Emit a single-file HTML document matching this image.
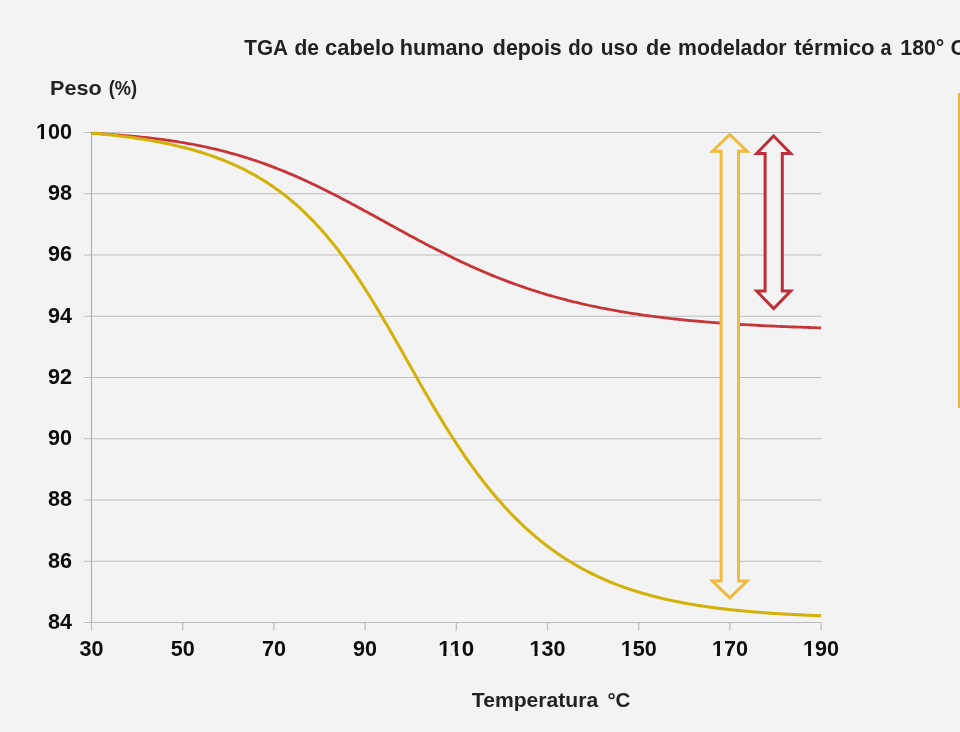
<!DOCTYPE html>
<html><head><meta charset="utf-8"><style>
html,body{margin:0;padding:0;background:#f3f3f3;}
body{width:960px;height:732px;overflow:hidden;position:relative;}
svg{position:absolute;left:0;top:0;}
.g{stroke:#bdbdbf;stroke-width:1.2;}
text{font-family:"Liberation Sans",Arial,sans-serif;font-weight:bold;}
.n{font-size:22.5px;fill:#0d0d0d;}
.t{font-size:21.5px;fill:#222;}
.l{font-size:21px;fill:#222;}
</style></head><body>
<svg width="960" height="732" viewBox="0 0 960 732">
<line x1="84" y1="622.50" x2="821.5" y2="622.50" class="g"/>
<line x1="84" y1="561.25" x2="821.5" y2="561.25" class="g"/>
<line x1="84" y1="500.00" x2="821.5" y2="500.00" class="g"/>
<line x1="84" y1="438.75" x2="821.5" y2="438.75" class="g"/>
<line x1="84" y1="377.50" x2="821.5" y2="377.50" class="g"/>
<line x1="84" y1="316.25" x2="821.5" y2="316.25" class="g"/>
<line x1="84" y1="255.00" x2="821.5" y2="255.00" class="g"/>
<line x1="84" y1="193.75" x2="821.5" y2="193.75" class="g"/>
<line x1="84" y1="132.50" x2="821.5" y2="132.50" class="g"/>
<line x1="91.5" y1="132.5" x2="91.5" y2="622.5" class="g" style="stroke:#b0b0b0"/>
<line x1="91.5" y1="622.5" x2="91.5" y2="630.5" class="g"/>
<line x1="182.7" y1="622.5" x2="182.7" y2="630.5" class="g"/>
<line x1="273.9" y1="622.5" x2="273.9" y2="630.5" class="g"/>
<line x1="365.1" y1="622.5" x2="365.1" y2="630.5" class="g"/>
<line x1="456.3" y1="622.5" x2="456.3" y2="630.5" class="g"/>
<line x1="547.5" y1="622.5" x2="547.5" y2="630.5" class="g"/>
<line x1="638.7" y1="622.5" x2="638.7" y2="630.5" class="g"/>
<line x1="729.9" y1="622.5" x2="729.9" y2="630.5" class="g"/>
<line x1="821.1" y1="622.5" x2="821.1" y2="630.5" class="g"/>

<path d="M91.5,133.3 L93.5,133.4 L95.5,133.5 L97.5,133.6 L99.5,133.7 L101.5,133.9 L103.5,134.0 L105.5,134.1 L107.5,134.2 L109.5,134.4 L111.5,134.5 L113.5,134.7 L115.5,134.8 L117.5,134.9 L119.5,135.1 L121.5,135.3 L123.5,135.4 L125.5,135.6 L127.5,135.8 L129.5,135.9 L131.5,136.1 L133.5,136.3 L135.5,136.5 L137.5,136.7 L139.5,136.9 L141.5,137.1 L143.5,137.3 L145.5,137.5 L147.5,137.7 L149.5,137.9 L151.5,138.2 L153.5,138.4 L155.5,138.7 L157.5,138.9 L159.5,139.2 L161.5,139.4 L163.5,139.7 L165.5,140.0 L167.5,140.2 L169.5,140.5 L171.5,140.8 L173.5,141.1 L175.5,141.4 L177.5,141.7 L179.5,142.1 L181.5,142.4 L183.5,142.7 L185.5,143.1 L187.5,143.4 L189.5,143.8 L191.5,144.1 L193.5,144.5 L195.5,144.9 L197.5,145.3 L199.5,145.7 L201.5,146.1 L203.5,146.5 L205.5,146.9 L207.5,147.4 L209.5,147.8 L211.5,148.3 L213.5,148.7 L215.5,149.2 L217.5,149.7 L219.5,150.2 L221.5,150.7 L223.5,151.2 L225.5,151.7 L227.5,152.2 L229.5,152.8 L231.5,153.3 L233.5,153.9 L235.5,154.4 L237.5,155.0 L239.5,155.6 L241.5,156.2 L243.5,156.8 L245.5,157.4 L247.5,158.0 L249.5,158.7 L251.5,159.3 L253.5,160.0 L255.5,160.6 L257.5,161.3 L259.5,162.0 L261.5,162.7 L263.5,163.4 L265.5,164.1 L267.5,164.9 L269.5,165.6 L271.5,166.4 L273.5,167.1 L275.5,167.9 L277.5,168.7 L279.5,169.5 L281.5,170.3 L283.5,171.1 L285.5,171.9 L287.5,172.7 L289.5,173.6 L291.5,174.4 L293.5,175.3 L295.5,176.1 L297.5,177.0 L299.5,177.9 L301.5,178.8 L303.5,179.7 L305.5,180.6 L307.5,181.5 L309.5,182.5 L311.5,183.4 L313.5,184.4 L315.5,185.3 L317.5,186.3 L319.5,187.3 L321.5,188.2 L323.5,189.2 L325.5,190.2 L327.5,191.2 L329.5,192.2 L331.5,193.2 L333.5,194.2 L335.5,195.3 L337.5,196.3 L339.5,197.3 L341.5,198.4 L343.5,199.4 L345.5,200.5 L347.5,201.5 L349.5,202.6 L351.5,203.7 L353.5,204.7 L355.5,205.8 L357.5,206.9 L359.5,208.0 L361.5,209.1 L363.5,210.2 L365.5,211.2 L367.5,212.3 L369.5,213.4 L371.5,214.5 L373.5,215.6 L375.5,216.7 L377.5,217.8 L379.5,218.9 L381.5,220.0 L383.5,221.1 L385.5,222.2 L387.5,223.3 L389.5,224.4 L391.5,225.5 L393.5,226.6 L395.5,227.7 L397.5,228.8 L399.5,229.9 L401.5,231.0 L403.5,232.1 L405.5,233.2 L407.5,234.3 L409.5,235.4 L411.5,236.4 L413.5,237.5 L415.5,238.6 L417.5,239.7 L419.5,240.7 L421.5,241.8 L423.5,242.8 L425.5,243.9 L427.5,244.9 L429.5,246.0 L431.5,247.0 L433.5,248.1 L435.5,249.1 L437.5,250.1 L439.5,251.1 L441.5,252.1 L443.5,253.1 L445.5,254.1 L447.5,255.1 L449.5,256.1 L451.5,257.1 L453.5,258.0 L455.5,259.0 L457.5,260.0 L459.5,260.9 L461.5,261.9 L463.5,262.8 L465.5,263.7 L467.5,264.6 L469.5,265.6 L471.5,266.5 L473.5,267.4 L475.5,268.2 L477.5,269.1 L479.5,270.0 L481.5,270.9 L483.5,271.7 L485.5,272.6 L487.5,273.4 L489.5,274.2 L491.5,275.1 L493.5,275.9 L495.5,276.7 L497.5,277.5 L499.5,278.3 L501.5,279.1 L503.5,279.8 L505.5,280.6 L507.5,281.4 L509.5,282.1 L511.5,282.9 L513.5,283.6 L515.5,284.3 L517.5,285.0 L519.5,285.7 L521.5,286.4 L523.5,287.1 L525.5,287.8 L527.5,288.5 L529.5,289.1 L531.5,289.8 L533.5,290.4 L535.5,291.1 L537.5,291.7 L539.5,292.3 L541.5,293.0 L543.5,293.6 L545.5,294.2 L547.5,294.8 L549.5,295.3 L551.5,295.9 L553.5,296.5 L555.5,297.0 L557.5,297.6 L559.5,298.1 L561.5,298.7 L563.5,299.2 L565.5,299.7 L567.5,300.3 L569.5,300.8 L571.5,301.3 L573.5,301.8 L575.5,302.2 L577.5,302.7 L579.5,303.2 L581.5,303.7 L583.5,304.1 L585.5,304.6 L587.5,305.0 L589.5,305.5 L591.5,305.9 L593.5,306.3 L595.5,306.7 L597.5,307.2 L599.5,307.6 L601.5,308.0 L603.5,308.4 L605.5,308.7 L607.5,309.1 L609.5,309.5 L611.5,309.9 L613.5,310.2 L615.5,310.6 L617.5,310.9 L619.5,311.3 L621.5,311.6 L623.5,312.0 L625.5,312.3 L627.5,312.6 L629.5,313.0 L631.5,313.3 L633.5,313.6 L635.5,313.9 L637.5,314.2 L639.5,314.5 L641.5,314.8 L643.5,315.1 L645.5,315.3 L647.5,315.6 L649.5,315.9 L651.5,316.2 L653.5,316.4 L655.5,316.7 L657.5,316.9 L659.5,317.2 L661.5,317.4 L663.5,317.7 L665.5,317.9 L667.5,318.1 L669.5,318.4 L671.5,318.6 L673.5,318.8 L675.5,319.0 L677.5,319.2 L679.5,319.5 L681.5,319.7 L683.5,319.9 L685.5,320.1 L687.5,320.3 L689.5,320.5 L691.5,320.6 L693.5,320.8 L695.5,321.0 L697.5,321.2 L699.5,321.4 L701.5,321.5 L703.5,321.7 L705.5,321.9 L707.5,322.1 L709.5,322.2 L711.5,322.4 L713.5,322.5 L715.5,322.7 L717.5,322.8 L719.5,323.0 L721.5,323.1 L723.5,323.3 L725.5,323.4 L727.5,323.6 L729.5,323.7 L731.5,323.8 L733.5,324.0 L735.5,324.1 L737.5,324.2 L739.5,324.3 L741.5,324.5 L743.5,324.6 L745.5,324.7 L747.5,324.8 L749.5,324.9 L751.5,325.0 L753.5,325.1 L755.5,325.2 L757.5,325.4 L759.5,325.5 L761.5,325.6 L763.5,325.7 L765.5,325.8 L767.5,325.8 L769.5,325.9 L771.5,326.0 L773.5,326.1 L775.5,326.2 L777.5,326.3 L779.5,326.4 L781.5,326.5 L783.5,326.6 L785.5,326.6 L787.5,326.7 L789.5,326.8 L791.5,326.9 L793.5,327.0 L795.5,327.0 L797.5,327.1 L799.5,327.2 L801.5,327.2 L803.5,327.3 L805.5,327.4 L807.5,327.4 L809.5,327.5 L811.5,327.6 L813.5,327.6 L815.5,327.7 L817.5,327.8 L819.5,327.8 L821.0,327.9" fill="none" stroke="#c63639" stroke-width="2.8" stroke-linejoin="round"/>
<path d="M91.5,133.1 L93.5,133.3 L95.5,133.4 L97.5,133.6 L99.5,133.8 L101.5,134.0 L103.5,134.2 L105.5,134.4 L107.5,134.6 L109.5,134.8 L111.5,135.0 L113.5,135.3 L115.5,135.5 L117.5,135.7 L119.5,136.0 L121.5,136.2 L123.5,136.4 L125.5,136.7 L127.5,137.0 L129.5,137.2 L131.5,137.5 L133.5,137.8 L135.5,138.1 L137.5,138.4 L139.5,138.7 L141.5,139.0 L143.5,139.3 L145.5,139.6 L147.5,140.0 L149.5,140.3 L151.5,140.6 L153.5,141.0 L155.5,141.4 L157.5,141.7 L159.5,142.1 L161.5,142.5 L163.5,142.9 L165.5,143.3 L167.5,143.7 L169.5,144.1 L171.5,144.6 L173.5,145.0 L175.5,145.5 L177.5,146.0 L179.5,146.4 L181.5,146.9 L183.5,147.4 L185.5,147.9 L187.5,148.5 L189.5,149.0 L191.5,149.5 L193.5,150.1 L195.5,150.7 L197.5,151.3 L199.5,151.9 L201.5,152.5 L203.5,153.1 L205.5,153.8 L207.5,154.4 L209.5,155.1 L211.5,155.8 L213.5,156.5 L215.5,157.2 L217.5,158.0 L219.5,158.7 L221.5,159.5 L223.5,160.3 L225.5,161.1 L227.5,161.9 L229.5,162.8 L231.5,163.6 L233.5,164.5 L235.5,165.4 L237.5,166.3 L239.5,167.3 L241.5,168.2 L243.5,169.2 L245.5,170.2 L247.5,171.3 L249.5,172.3 L251.5,173.4 L253.5,174.5 L255.5,175.6 L257.5,176.8 L259.5,178.0 L261.5,179.2 L263.5,180.4 L265.5,181.7 L267.5,182.9 L269.5,184.3 L271.5,185.6 L273.5,187.0 L275.5,188.4 L277.5,189.8 L279.5,191.3 L281.5,192.8 L283.5,194.3 L285.5,195.8 L287.5,197.4 L289.5,199.1 L291.5,200.7 L293.5,202.4 L295.5,204.1 L297.5,205.9 L299.5,207.7 L301.5,209.5 L303.5,211.4 L305.5,213.3 L307.5,215.3 L309.5,217.3 L311.5,219.3 L313.5,221.3 L315.5,223.5 L317.5,225.6 L319.5,227.8 L321.5,230.0 L323.5,232.3 L325.5,234.6 L327.5,237.0 L329.5,239.4 L331.5,241.8 L333.5,244.3 L335.5,246.8 L337.5,249.4 L339.5,252.0 L341.5,254.6 L343.5,257.3 L345.5,260.1 L347.5,262.8 L349.5,265.7 L351.5,268.5 L353.5,271.4 L355.5,274.4 L357.5,277.3 L359.5,280.4 L361.5,283.4 L363.5,286.5 L365.5,289.6 L367.5,292.8 L369.5,296.0 L371.5,299.2 L373.5,302.5 L375.5,305.8 L377.5,309.1 L379.5,312.4 L381.5,315.8 L383.5,319.2 L385.5,322.6 L387.5,326.1 L389.5,329.5 L391.5,333.0 L393.5,336.5 L395.5,340.0 L397.5,343.5 L399.5,347.1 L401.5,350.6 L403.5,354.1 L405.5,357.7 L407.5,361.2 L409.5,364.8 L411.5,368.3 L413.5,371.8 L415.5,375.4 L417.5,378.9 L419.5,382.4 L421.5,385.9 L423.5,389.4 L425.5,392.9 L427.5,396.3 L429.5,399.7 L431.5,403.2 L433.5,406.6 L435.5,409.9 L437.5,413.3 L439.5,416.6 L441.5,419.9 L443.5,423.2 L445.5,426.4 L447.5,429.6 L449.5,432.8 L451.5,436.0 L453.5,439.1 L455.5,442.2 L457.5,445.2 L459.5,448.2 L461.5,451.2 L463.5,454.2 L465.5,457.1 L467.5,460.0 L469.5,462.8 L471.5,465.6 L473.5,468.4 L475.5,471.1 L477.5,473.8 L479.5,476.5 L481.5,479.1 L483.5,481.7 L485.5,484.2 L487.5,486.7 L489.5,489.2 L491.5,491.7 L493.5,494.1 L495.5,496.4 L497.5,498.8 L499.5,501.1 L501.5,503.3 L503.5,505.6 L505.5,507.7 L507.5,509.9 L509.5,512.0 L511.5,514.1 L513.5,516.2 L515.5,518.2 L517.5,520.2 L519.5,522.1 L521.5,524.0 L523.5,525.9 L525.5,527.8 L527.5,529.6 L529.5,531.4 L531.5,533.2 L533.5,534.9 L535.5,536.6 L537.5,538.3 L539.5,539.9 L541.5,541.5 L543.5,543.1 L545.5,544.7 L547.5,546.2 L549.5,547.7 L551.5,549.2 L553.5,550.6 L555.5,552.1 L557.5,553.5 L559.5,554.8 L561.5,556.2 L563.5,557.5 L565.5,558.8 L567.5,560.0 L569.5,561.3 L571.5,562.5 L573.5,563.7 L575.5,564.9 L577.5,566.0 L579.5,567.2 L581.5,568.3 L583.5,569.4 L585.5,570.4 L587.5,571.5 L589.5,572.5 L591.5,573.5 L593.5,574.5 L595.5,575.4 L597.5,576.4 L599.5,577.3 L601.5,578.2 L603.5,579.1 L605.5,580.0 L607.5,580.8 L609.5,581.7 L611.5,582.5 L613.5,583.3 L615.5,584.1 L617.5,584.9 L619.5,585.6 L621.5,586.3 L623.5,587.1 L625.5,587.8 L627.5,588.5 L629.5,589.1 L631.5,589.8 L633.5,590.5 L635.5,591.1 L637.5,591.7 L639.5,592.3 L641.5,592.9 L643.5,593.5 L645.5,594.1 L647.5,594.6 L649.5,595.2 L651.5,595.7 L653.5,596.3 L655.5,596.8 L657.5,597.3 L659.5,597.8 L661.5,598.2 L663.5,598.7 L665.5,599.2 L667.5,599.6 L669.5,600.1 L671.5,600.5 L673.5,600.9 L675.5,601.3 L677.5,601.7 L679.5,602.1 L681.5,602.5 L683.5,602.9 L685.5,603.2 L687.5,603.6 L689.5,604.0 L691.5,604.3 L693.5,604.6 L695.5,605.0 L697.5,605.3 L699.5,605.6 L701.5,605.9 L703.5,606.2 L705.5,606.5 L707.5,606.8 L709.5,607.1 L711.5,607.3 L713.5,607.6 L715.5,607.9 L717.5,608.1 L719.5,608.4 L721.5,608.6 L723.5,608.9 L725.5,609.1 L727.5,609.3 L729.5,609.6 L731.5,609.8 L733.5,610.0 L735.5,610.2 L737.5,610.4 L739.5,610.6 L741.5,610.8 L743.5,611.0 L745.5,611.2 L747.5,611.3 L749.5,611.5 L751.5,611.7 L753.5,611.9 L755.5,612.0 L757.5,612.2 L759.5,612.3 L761.5,612.5 L763.5,612.7 L765.5,612.8 L767.5,612.9 L769.5,613.1 L771.5,613.2 L773.5,613.4 L775.5,613.5 L777.5,613.6 L779.5,613.7 L781.5,613.9 L783.5,614.0 L785.5,614.1 L787.5,614.2 L789.5,614.3 L791.5,614.4 L793.5,614.5 L795.5,614.6 L797.5,614.7 L799.5,614.8 L801.5,614.9 L803.5,615.0 L805.5,615.1 L807.5,615.2 L809.5,615.3 L811.5,615.4 L813.5,615.5 L815.5,615.6 L817.5,615.6 L819.5,615.7 L821.0,615.8" fill="none" stroke="#d4b20c" stroke-width="3.1" stroke-linejoin="round"/>
<polygon points="729.8,134.5 747.1,151.2 738.5,151.2 738.5,581.1 747.1,581.1 729.8,597.8 712.5,581.1 721.1,581.1 721.1,151.2 712.5,151.2" fill="#f3f3f3" stroke="#efbb3c" stroke-width="3" stroke-linejoin="miter"/>

<polygon points="773.7,136.0 790.7,153.4 782.3,153.4 782.3,291.1 790.7,291.1 773.7,308.5 756.7,291.1 765.1,291.1 765.1,153.4 756.7,153.4" fill="#f3f3f3" stroke="#bc2f38" stroke-width="3" stroke-linejoin="miter"/>

<rect x="958" y="93" width="2" height="315" fill="#edb54f"/>
<text x="72" y="628.90" text-anchor="end" class="n" textLength="24.03" lengthAdjust="spacingAndGlyphs">84</text>
<text x="72" y="567.65" text-anchor="end" class="n" textLength="24.03" lengthAdjust="spacingAndGlyphs">86</text>
<text x="72" y="506.40" text-anchor="end" class="n" textLength="24.03" lengthAdjust="spacingAndGlyphs">88</text>
<text x="72" y="445.15" text-anchor="end" class="n" textLength="24.03" lengthAdjust="spacingAndGlyphs">90</text>
<text x="72" y="383.90" text-anchor="end" class="n" textLength="24.03" lengthAdjust="spacingAndGlyphs">92</text>
<text x="72" y="322.65" text-anchor="end" class="n" textLength="24.03" lengthAdjust="spacingAndGlyphs">94</text>
<text x="72" y="261.40" text-anchor="end" class="n" textLength="24.03" lengthAdjust="spacingAndGlyphs">96</text>
<text x="72" y="200.15" text-anchor="end" class="n" textLength="24.03" lengthAdjust="spacingAndGlyphs">98</text>
<text x="72" y="138.90" text-anchor="end" class="n" textLength="36.04" lengthAdjust="spacingAndGlyphs">100</text>
<text x="91.50" y="655.5" text-anchor="middle" class="n" textLength="24.03" lengthAdjust="spacingAndGlyphs">30</text>
<text x="182.70" y="655.5" text-anchor="middle" class="n" textLength="24.03" lengthAdjust="spacingAndGlyphs">50</text>
<text x="273.90" y="655.5" text-anchor="middle" class="n" textLength="24.03" lengthAdjust="spacingAndGlyphs">70</text>
<text x="365.10" y="655.5" text-anchor="middle" class="n" textLength="24.03" lengthAdjust="spacingAndGlyphs">90</text>
<text x="456.30" y="655.5" text-anchor="middle" class="n" textLength="36.04" lengthAdjust="spacingAndGlyphs">110</text>
<text x="547.50" y="655.5" text-anchor="middle" class="n" textLength="36.04" lengthAdjust="spacingAndGlyphs">130</text>
<text x="638.70" y="655.5" text-anchor="middle" class="n" textLength="36.04" lengthAdjust="spacingAndGlyphs">150</text>
<text x="729.90" y="655.5" text-anchor="middle" class="n" textLength="36.04" lengthAdjust="spacingAndGlyphs">170</text>
<text x="821.10" y="655.5" text-anchor="middle" class="n" textLength="36.04" lengthAdjust="spacingAndGlyphs">190</text>
<rect x="36.72" y="135.80" width="4.20" height="3.70" fill="#f3f3f3"/><rect x="44.05" y="135.80" width="4.01" height="3.70" fill="#f3f3f3"/><rect x="439.04" y="652.40" width="4.20" height="3.70" fill="#f3f3f3"/><rect x="446.37" y="652.40" width="4.01" height="3.70" fill="#f3f3f3"/><rect x="451.05" y="652.40" width="4.20" height="3.70" fill="#f3f3f3"/><rect x="458.38" y="652.40" width="4.01" height="3.70" fill="#f3f3f3"/><rect x="530.24" y="652.40" width="4.20" height="3.70" fill="#f3f3f3"/><rect x="537.57" y="652.40" width="4.01" height="3.70" fill="#f3f3f3"/><rect x="621.44" y="652.40" width="4.20" height="3.70" fill="#f3f3f3"/><rect x="628.77" y="652.40" width="4.01" height="3.70" fill="#f3f3f3"/><rect x="712.64" y="652.40" width="4.20" height="3.70" fill="#f3f3f3"/><rect x="719.97" y="652.40" width="4.01" height="3.70" fill="#f3f3f3"/><rect x="803.84" y="652.40" width="4.20" height="3.70" fill="#f3f3f3"/><rect x="811.17" y="652.40" width="4.01" height="3.70" fill="#f3f3f3"/><rect x="901.08" y="51.81" width="4.14" height="3.59" fill="#f3f3f3"/><rect x="908.30" y="51.81" width="3.95" height="3.59" fill="#f3f3f3"/>
<text y="54.8" class="t"><tspan x="244.26" textLength="42.97" lengthAdjust="spacingAndGlyphs">TGA</tspan> <tspan x="294.39" textLength="24.58" lengthAdjust="spacingAndGlyphs">de</tspan> <tspan x="325.07" textLength="69.34" lengthAdjust="spacingAndGlyphs">cabelo</tspan> <tspan x="399.73" textLength="84.19" lengthAdjust="spacingAndGlyphs">humano</tspan> <tspan x="492.82" textLength="68.94" lengthAdjust="spacingAndGlyphs">depois</tspan> <tspan x="568.37" textLength="24.91" lengthAdjust="spacingAndGlyphs">do</tspan> <tspan x="600.68" textLength="37.30" lengthAdjust="spacingAndGlyphs">uso</tspan> <tspan x="646.07" textLength="25.11" lengthAdjust="spacingAndGlyphs">de</tspan> <tspan x="678.07" textLength="108.56" lengthAdjust="spacingAndGlyphs">modelador</tspan> <tspan x="794.21" textLength="80.50" lengthAdjust="spacingAndGlyphs">térmico</tspan> <tspan x="880.62" textLength="11.01" lengthAdjust="spacingAndGlyphs">a</tspan> <tspan x="900.35" textLength="43.96" lengthAdjust="spacingAndGlyphs">180°</tspan> <tspan x="950.38" textLength="15.53" lengthAdjust="spacingAndGlyphs">C</tspan></text>
<text y="94.5" class="l"><tspan x="50.04" textLength="51.69" lengthAdjust="spacingAndGlyphs">Peso</tspan> <tspan x="108.66" textLength="28.31" lengthAdjust="spacingAndGlyphs">(%)</tspan></text>
<text y="706.8" class="l"><tspan x="471.85" textLength="126.29" lengthAdjust="spacingAndGlyphs">Temperatura</tspan> <tspan x="607.42" textLength="23.07" lengthAdjust="spacingAndGlyphs">°C</tspan></text>
</svg>
</body></html>
